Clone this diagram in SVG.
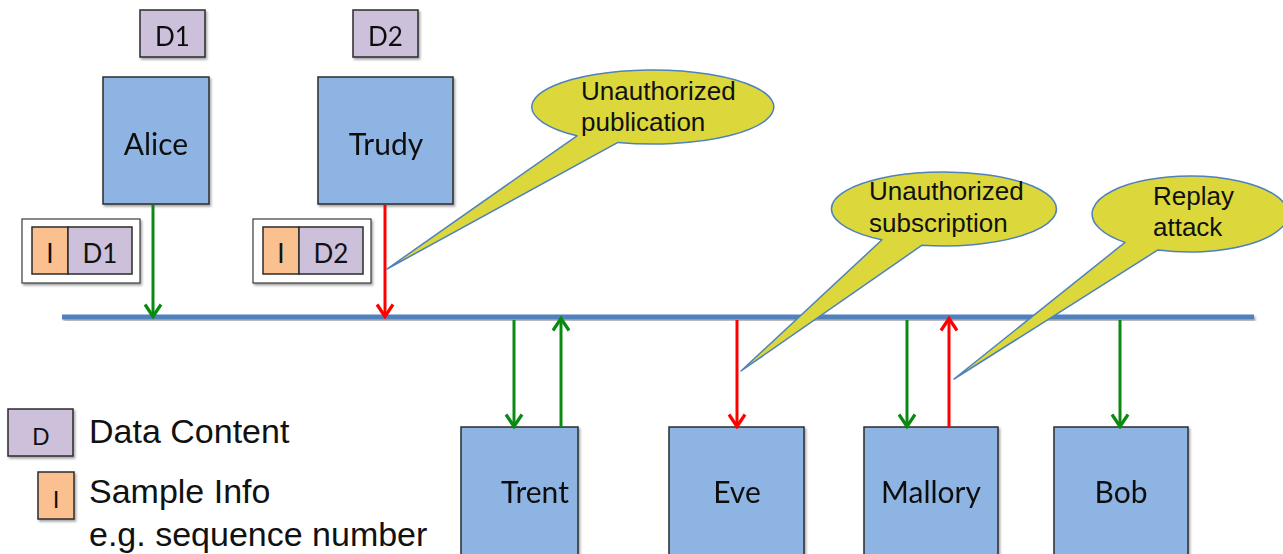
<svg xmlns="http://www.w3.org/2000/svg" width="1283" height="554" viewBox="0 0 1283 554">
<defs>
<style>
.node{fill:#8eb4e3;stroke:#2b2b2b;stroke-width:1.5}
.data{fill:#ccc0da;stroke:#2b2b2b;stroke-width:1.5}
.info{fill:#fac090;stroke:#2b2b2b;stroke-width:1.5}
.pkt{fill:#ffffff;stroke:#3a3a3a;stroke-width:1.2}
.nt{font-family:Lato,"Open Sans",sans-serif;font-size:30px;fill:#111;text-anchor:middle}
.dt{font-family:Lato,"Open Sans",sans-serif;font-size:26px;fill:#111;text-anchor:middle}
.lt{font-family:"Liberation Sans",Arial,sans-serif;font-size:34px;fill:#111}
.ldt{font-family:"Liberation Sans",Arial,sans-serif;font-size:24px;fill:#111;text-anchor:middle}
.ct{font-family:"Liberation Sans",Arial,sans-serif;font-size:26px;fill:#111}
.co{fill:#dcd83b;stroke:#4f81bd;stroke-width:1.5;stroke-linejoin:round}
.g{stroke:#0b8a12;stroke-width:3;fill:none}
.r{stroke:#ff0000;stroke-width:3;fill:none}
.bus{fill:#4f81bd}
</style>
<filter id="sh" x="-10%" y="-10%" width="130%" height="130%">
<feDropShadow dx="1.5" dy="2" stdDeviation="1.2" flood-color="#000" flood-opacity="0.35"/>
</filter>
<marker id="ag" markerUnits="userSpaceOnUse" markerWidth="30" markerHeight="30" viewBox="-15 -15 30 30" refX="-1.5" refY="0" orient="auto">
<path d="M-12,-8 L0,0 L-12,8" fill="none" stroke="#0b8a12" stroke-width="3.2"/>
</marker>
<marker id="ar" markerUnits="userSpaceOnUse" markerWidth="30" markerHeight="30" viewBox="-15 -15 30 30" refX="-1.5" refY="0" orient="auto">
<path d="M-12,-8 L0,0 L-12,8" fill="none" stroke="#ff0000" stroke-width="3.2"/>
</marker>
</defs>
<rect width="1283" height="554" fill="#ffffff"/>

<g id="d1-top" filter="url(#sh)"><rect class="data" x="140" y="10" width="65" height="47"/><text class="dt" x="172.5" y="46">D1</text></g>
<g id="d2-top" filter="url(#sh)"><rect class="data" x="353" y="10" width="65" height="47"/><text class="dt" x="385.5" y="46">D2</text></g>

<g id="alice" filter="url(#sh)"><rect class="node" x="103" y="77" width="106" height="127"/><text class="nt" x="156" y="155">Alice</text></g>
<g id="trudy" filter="url(#sh)"><rect class="node" x="318" y="77" width="135" height="127"/><text class="nt" x="386" y="155">Trudy</text></g>

<g id="pkt-alice">
<rect class="pkt" x="22" y="219" width="118" height="64" filter="url(#sh)"/>
<rect class="info" x="32" y="227" width="36" height="47"/>
<rect class="data" x="68" y="227" width="64" height="47"/>
<text class="dt" x="50" y="263">I</text>
<text class="dt" x="100" y="263">D1</text>
</g>
<g id="pkt-trudy">
<rect class="pkt" x="253" y="219" width="118" height="64" filter="url(#sh)"/>
<rect class="info" x="263" y="227" width="36" height="47"/>
<rect class="data" x="299" y="227" width="64" height="47"/>
<text class="dt" x="281" y="263">I</text>
<text class="dt" x="331" y="263">D2</text>
</g>

<g id="trent" filter="url(#sh)"><rect class="node" x="461" y="427" width="117" height="140"/><text class="nt" x="535" y="503">Trent</text></g>
<g id="eve" filter="url(#sh)"><rect class="node" x="669" y="427" width="135" height="140"/><text class="nt" x="737" y="503">Eve</text></g>
<g id="mallory" filter="url(#sh)"><rect class="node" x="864" y="427" width="134" height="140"/><text class="nt" x="931" y="503">Mallory</text></g>
<g id="bob" filter="url(#sh)"><rect class="node" x="1054" y="427" width="134" height="140"/><text class="nt" x="1121" y="503">Bob</text></g>

<g id="legend">
<rect class="data" x="8" y="409" width="65" height="47" filter="url(#sh)"/>
<text class="ldt" x="41" y="445">D</text>
<text class="lt" x="89" y="443">Data Content</text>
<rect class="info" x="38" y="472" width="36" height="47" filter="url(#sh)"/>
<text class="ldt" x="56" y="508">I</text>
<text class="lt" x="89" y="503">Sample Info</text>
<text class="lt" x="89" y="546">e.g. sequence number</text>
</g>

<g id="bus"><rect class="bus" x="62" y="314.5" width="1192" height="5" filter="url(#sh)"/></g>

<g id="connectors">
<line class="g" x1="153" y1="205" x2="153" y2="315" marker-end="url(#ag)"/>
<line class="r" x1="385" y1="205" x2="385" y2="315" marker-end="url(#ar)"/>
<line class="g" x1="514" y1="320" x2="514" y2="425" marker-end="url(#ag)"/>
<line class="g" x1="561" y1="427" x2="561" y2="320" marker-end="url(#ag)"/>
<line class="r" x1="737" y1="320" x2="737" y2="425" marker-end="url(#ar)"/>
<line class="g" x1="907" y1="320" x2="907" y2="425" marker-end="url(#ag)"/>
<line class="r" x1="949" y1="427" x2="949" y2="320" marker-end="url(#ar)"/>
<line class="g" x1="1120" y1="320" x2="1120" y2="425" marker-end="url(#ag)"/>
</g>

<g id="callout-publication">
<path class="co" d="M618,142.4 A121 37 0 1 0 577,135.8 L387,269 Z"/>
<text class="ct" x="581" y="100">Unauthorized</text>
<text class="ct" x="581" y="131">publication</text>
</g>
<g id="callout-subscription">
<path class="co" d="M922,245.2 A112.5 37 0 1 0 882,239.8 L741,371 Z"/>
<text class="ct" x="869" y="200">Unauthorized</text>
<text class="ct" x="869" y="232">subscription</text>
</g>
<g id="callout-replay">
<path class="co" d="M1158,249.9 A98 38 0 1 0 1125,242.4 L954,379 Z"/>
<text class="ct" x="1153" y="205">Replay</text>
<text class="ct" x="1153" y="236">attack</text>
</g>
</svg>
